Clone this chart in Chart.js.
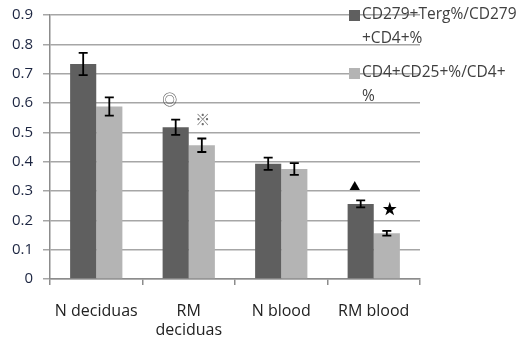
<!DOCTYPE html>
<html>
<head>
<meta charset="utf-8">
<script src="https://cdn.jsdelivr.net/npm/chart.js@4.4.0/dist/chart.umd.min.js"></script>
<style>
  html, body { margin: 0; padding: 0; background: #fff; }
  #wrap { width: 528px; height: 343px; }
</style>
</head>
<body>
<div id="wrap"><canvas id="chart" width="528" height="343"></canvas></div>
<script>
// chart data
const categories = ['N deciduas', ['RM', 'deciduas'], 'N blood', 'RM blood'];
const seriesNames = [['CD279+Terg%/CD279', '+CD4+%'], ['CD4+CD25+%/CD4+', '%']];
const pd1Values = [0.733, 0.517, 0.393, 0.256];
const pd1Errors = [0.038, 0.026, 0.021, 0.012];
const cd25Values = [0.588, 0.456, 0.375, 0.156];
const cd25Errors = [0.031, 0.023, 0.020, 0.008];
const yTicks = [0, 0.1, 0.2, 0.3, 0.4, 0.5, 0.6, 0.7, 0.8, 0.9];

// significance marks: symbol, dataset, category, value
const markSymbols = ['◎', '※', '▲', '★'];
const markDatasets = [0, 1, 0, 1];
const markIndexes = [1, 1, 3, 3];
const markValues = [0.614, 0.543, 0.317, 0.242];

const DARK = '#5f5f5f';
const LIGHT = '#b4b4b4';
const FONT = '"Open Sans", sans-serif';

const errorBars = {
  id: 'errorBars',
  afterDatasetsDraw(chart) {
    const ctx = chart.ctx;
    const y = chart.scales.y;
    const errs = [pd1Errors, cd25Errors];
    const vals = [pd1Values, cd25Values];
    ctx.save();
    ctx.strokeStyle = '#000';
    ctx.lineWidth = 1.8;
    [0, 1].forEach(d => {
      chart.getDatasetMeta(d).data.forEach((bar, i) => {
        const top = y.getPixelForValue(vals[d][i] + errs[d][i]);
        const bot = y.getPixelForValue(vals[d][i] - errs[d][i]);
        ctx.beginPath();
        ctx.moveTo(bar.x, top); ctx.lineTo(bar.x, bot);
        ctx.moveTo(bar.x - 4.5, top); ctx.lineTo(bar.x + 4.5, top);
        ctx.moveTo(bar.x - 4.5, bot); ctx.lineTo(bar.x + 4.5, bot);
        ctx.stroke();
      });
    });
    ctx.restore();
  }
};

// glyph look per symbol
const markStyle = {
  '◎': { size: 15, color: '#5a5a5a', dx: -6 },
  '※': { size: 15, color: '#6f6f6f', dx: 1 },
  '▲': { size: 11, color: '#000', dx: -6 },
  '★': { size: 15, color: '#000', dx: 3 }
};

const marks = {
  id: 'marks',
  afterDatasetsDraw(chart) {
    const ctx = chart.ctx;
    const y = chart.scales.y;
    ctx.save();
    ctx.textAlign = 'center';
    ctx.textBaseline = 'middle';
    markSymbols.forEach((s, k) => {
      const bar = chart.getDatasetMeta(markDatasets[k]).data[markIndexes[k]];
      const st = markStyle[s];
      ctx.fillStyle = st.color;
      ctx.font = st.size + 'px "Noto Sans CJK SC", "DejaVu Sans", sans-serif';
      ctx.fillText(s, bar.x + st.dx, y.getPixelForValue(markValues[k]));
    });
    ctx.restore();
  }
};

const sideLegend = {
  id: 'sideLegend',
  afterDraw(chart) {
    const ctx = chart.ctx;
    const colors = [DARK, LIGHT];
    const rowTops = [15, 73];
    ctx.save();
    ctx.font = '15.5px ' + FONT;
    ctx.textBaseline = 'middle';
    ctx.textAlign = 'left';
    seriesNames.forEach((lines, d) => {
      ctx.fillStyle = colors[d];
      ctx.fillRect(349, rowTops[d] - 5, 11, 11);
      ctx.fillStyle = '#404040';
      lines.forEach((t, j) => ctx.fillText(t, 362, rowTops[d] + j * 24));
    });
    ctx.restore();
  }
};

new Chart(document.getElementById('chart'), {
  type: 'bar',
  data: {
    labels: categories,
    datasets: [
      { label: seriesNames[0].join(''), data: pd1Values, backgroundColor: DARK },
      { label: seriesNames[1].join(''), data: cd25Values, backgroundColor: LIGHT }
    ]
  },
  options: {
    responsive: false,
    animation: false,
    layout: { padding: { top: 15, right: 108, left: 0, bottom: 0 } },
    datasets: { bar: { categoryPercentage: 0.565, barPercentage: 1.0 } },
    plugins: { legend: { display: false }, tooltip: { enabled: false } },
    scales: {
      x: {
        grid: { offset: true, drawOnChartArea: false, drawTicks: true, tickLength: 6, color: '#8c8c8c', lineWidth: 1.5 },
        border: { color: '#8c8c8c', width: 1.5 },
        ticks: { color: '#222', font: { family: FONT, size: 16 }, padding: 17, maxRotation: 0, autoSkip: false, lineHeight: 1.45 },
        afterFit(s) { s.height = 343 - 279; s.paddingLeft = 0; s.paddingRight = 0; }
      },
      y: {
        min: 0,
        max: 0.9,
        afterBuildTicks(s) { s.ticks = yTicks.map(v => ({ value: v })); },
        grid: { color: '#a6a6a6', lineWidth: 1.5, tickLength: 7 },
        border: { color: '#8c8c8c', width: 1.5 },
        ticks: { color: '#1c2541', font: { family: FONT, size: 15 }, padding: 10, callback: v => String(v) },
        afterFit(s) { s.width = 50; s.paddingTop = 0; s.paddingBottom = 0; }
      }
    }
  },
  plugins: [errorBars, marks, sideLegend]
});
</script>
</body>
</html>
